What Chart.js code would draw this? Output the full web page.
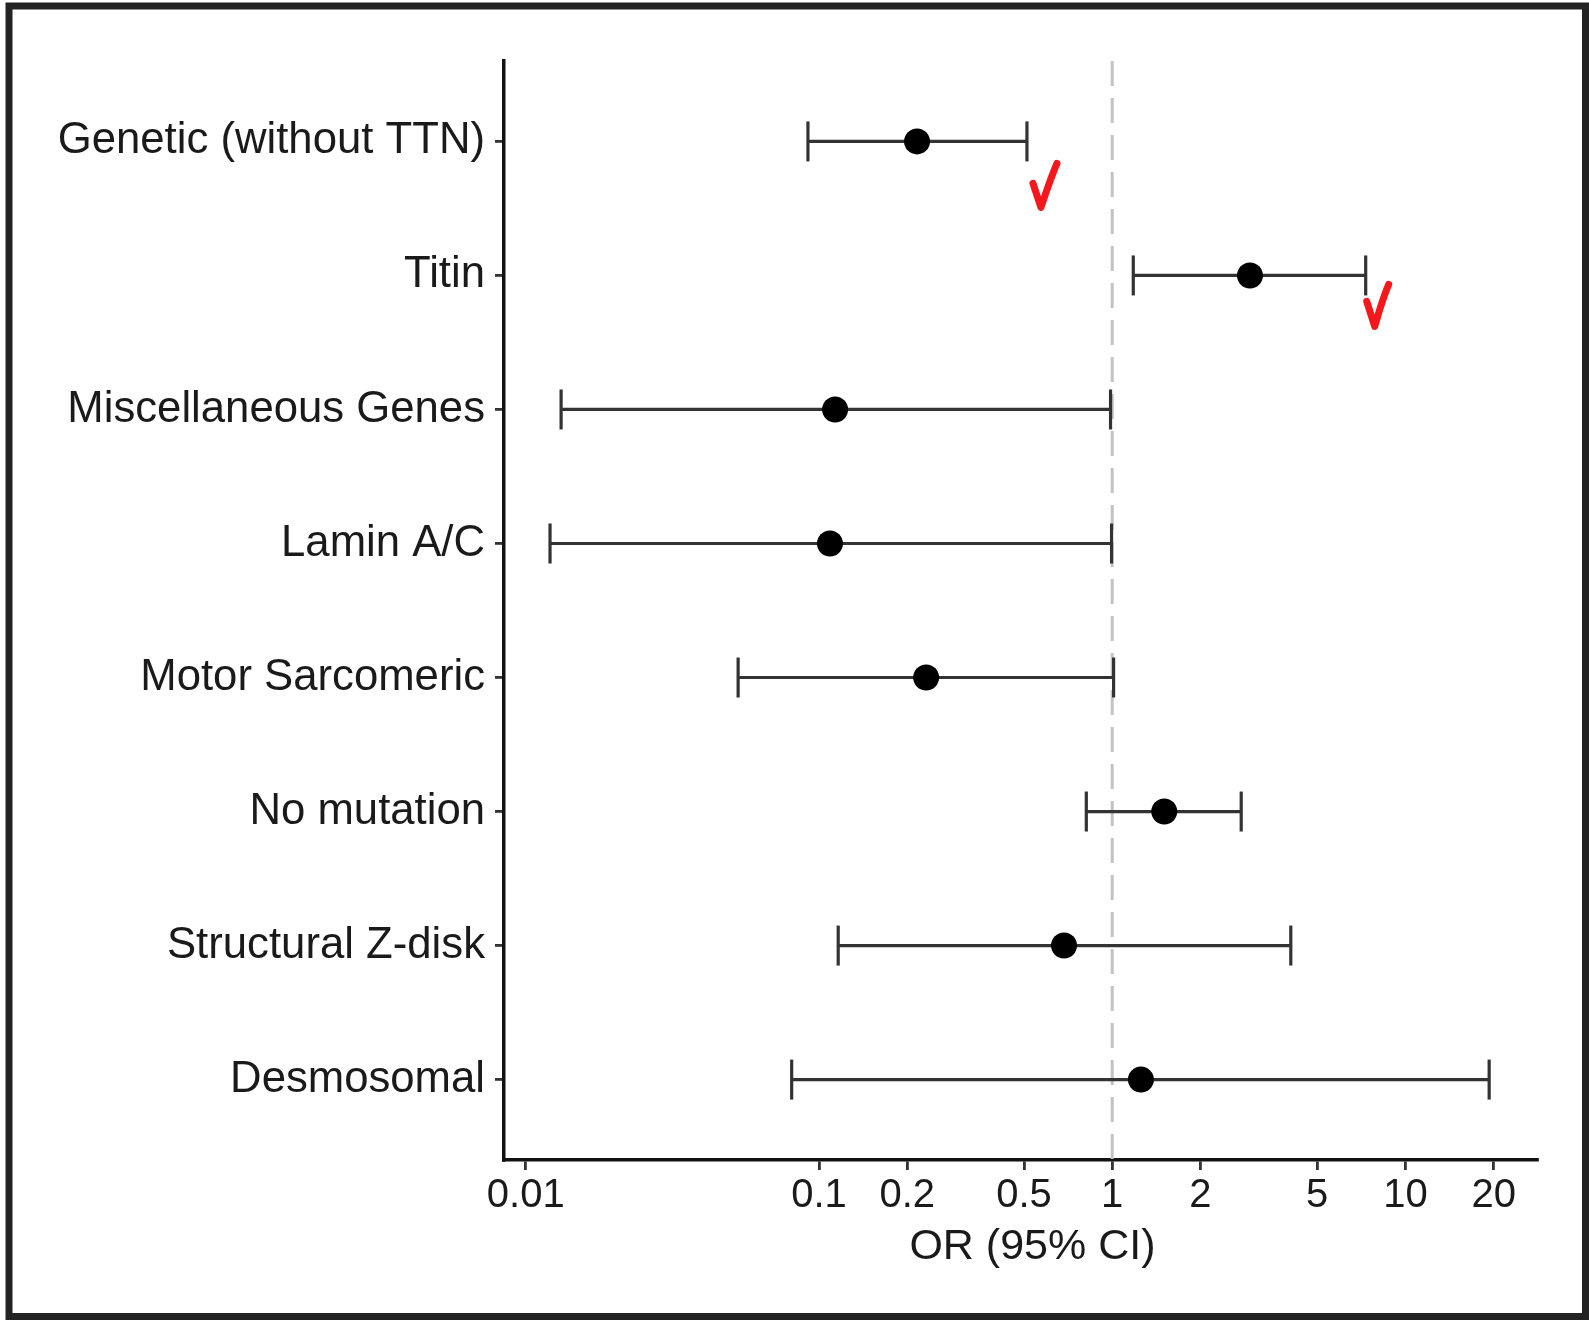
<!DOCTYPE html>
<html>
<head>
<meta charset="utf-8">
<script src="https://cdn.jsdelivr.net/npm/chart.js@4.4.1/dist/chart.umd.min.js"></script>
<style>
  html, body { margin: 0; padding: 0; background: #fff; }
  #wrap { width: 1589px; height: 1320px; }
</style>
</head>
<body>
<div id="wrap"><canvas id="forest"></canvas></div>
<script>
// Rows, top to bottom
const rowLabels = [
  'Genetic (without TTN)',
  'Titin',
  'Miscellaneous Genes',
  'Lamin A/C',
  'Motor Sarcomeric',
  'No mutation',
  'Structural Z-disk',
  'Desmosomal'
];
// odds ratio and 95% CI
const orValues = [0.216, 2.95, 0.1135, 0.109, 0.232, 1.505, 0.685, 1.253];
const ciLow    = [0.0917, 1.18, 0.0132, 0.0121, 0.053, 0.816, 0.1163, 0.0807];
const ciHigh   = [0.512, 7.32, 0.987, 0.995, 1.011, 2.754, 4.065, 19.3];

const xTickValues = [0.01, 0.1, 0.2, 0.5, 1, 2, 5, 10, 20];
const xTickLabels = ['0.01', '0.1', '0.2', '0.5', '1', '2', '5', '10', '20'];
const refValue = 1;

// rows that got a red tick mark by hand
const checkedRows = [0, 1];

const FONT = '"Liberation Sans", Arial, Helvetica, sans-serif';

/////// datasets ///////
const datasets = [];

datasets.push({
  label: 'OR',
  data: orValues.map((v, i) => ({ x: v, y: i })),
  pointRadius: 13,
  pointBackgroundColor: '#000',
  pointBorderWidth: 0,
  showLine: false,
  order: 0
});

rowLabels.forEach((name, i) => {
  datasets.push({
    label: name + ' CI',
    data: [{ x: ciLow[i], y: i }, { x: ciHigh[i], y: i }],
    showLine: true,
    borderColor: '#333',
    borderWidth: 3.2,
    pointStyle: 'line',
    rotation: 90,
    pointRadius: 20,
    pointBorderWidth: 3.2,
    pointBorderColor: '#333',
    order: 1
  });
});

datasets.push({
  label: 'ref',
  data: [{ x: refValue, y: -0.6 }, { x: refValue, y: rowLabels.length - 0.4 }],
  showLine: true,
  borderColor: '#c2c2c2',
  borderWidth: 3,
  borderDash: [25, 12],
  pointRadius: 0,
  order: 2
});

/////// plugins ///////
const framePlugin = {
  id: 'frame',
  beforeDraw(chart) {
    const c = chart.ctx;
    c.save();
    c.fillStyle = '#fff';
    c.fillRect(0, 0, chart.width, chart.height);
    c.strokeStyle = '#232323';
    c.lineWidth = 7;
    c.strokeRect(9, 6, chart.width - 12.5, chart.height - 9.5);
    c.restore();
  }
};

// the red hand-drawn ticks next to the upper CI cap
const checkPlugin = {
  id: 'checks',
  afterDatasetsDraw(chart) {
    const c = chart.ctx;
    const xs = chart.scales.x, ys = chart.scales.y;
    const shapes = [
      [[6, 42], [14, 66], [30, 22]],
      [[1, 26], [9, 51], [23, 9]]
    ];
    c.save();
    c.strokeStyle = '#f4171b';
    c.lineWidth = 7;
    c.lineCap = 'round';
    c.lineJoin = 'round';
    checkedRows.forEach((r, k) => {
      const px = xs.getPixelForValue(ciHigh[r]);
      const py = ys.getPixelForValue(r);
      const s = shapes[k];
      c.beginPath();
      c.moveTo(px + s[0][0], py + s[0][1]);
      c.lineTo(px + s[1][0], py + s[1][1]);
      c.quadraticCurveTo(px + s[2][0] - 6, py + s[2][1] + 14, px + s[2][0], py + s[2][1]);
      c.stroke();
    });
    c.restore();
  }
};

new Chart(document.getElementById('forest'), {
  type: 'scatter',
  data: { datasets: datasets },
  options: {
    responsive: true,
    maintainAspectRatio: false,
    animation: false,
    layout: { padding: { left: 0, top: 61, right: 52, bottom: 0 } },
    plugins: {
      legend: { display: false },
      tooltip: { enabled: false }
    },
    scales: {
      x: {
        type: 'logarithmic',
        min: 0.00843,
        max: 28.1,
        afterBuildTicks: (scale) => {
          scale.ticks = xTickValues.map(v => ({ value: v }));
        },
        afterFit: (scale) => { scale.height = 160; },
        ticks: {
          autoSkip: false,
          maxRotation: 0,
          padding: 2,
          color: '#1a1a1a',
          font: { family: FONT, size: 40 },
          callback: (value, index) => xTickLabels[index]
        },
        grid: {
          drawOnChartArea: false,
          drawTicks: true,
          tickLength: 10,
          color: '#333',
          lineWidth: 2.8
        },
        border: { display: true, color: '#111', width: 3.5 },
        title: {
          display: true,
          // leading spaces nudge the centred title right, as in the original
          text: '  OR (95% CI)',
          color: '#1a1a1a',
          font: { family: FONT, size: 43 },
          padding: { top: 0, bottom: 47 }
        }
      },
      y: {
        type: 'linear',
        reverse: true,
        min: -0.6,
        max: rowLabels.length - 0.4,
        afterBuildTicks: (scale) => {
          scale.ticks = rowLabels.map((_, i) => ({ value: i }));
        },
        afterFit: (scale) => { scale.width = 504; },
        ticks: {
          autoSkip: false,
          padding: 10,
          color: '#1a1a1a',
          font: { family: FONT, size: 43.7 },
          callback: (value) => rowLabels[value]
        },
        grid: {
          drawOnChartArea: false,
          drawTicks: true,
          tickLength: 9,
          color: '#333',
          lineWidth: 2.8
        },
        border: { display: true, color: '#111', width: 3.5 }
      }
    }
  },
  plugins: [framePlugin, checkPlugin]
});
</script>
</body>
</html>
